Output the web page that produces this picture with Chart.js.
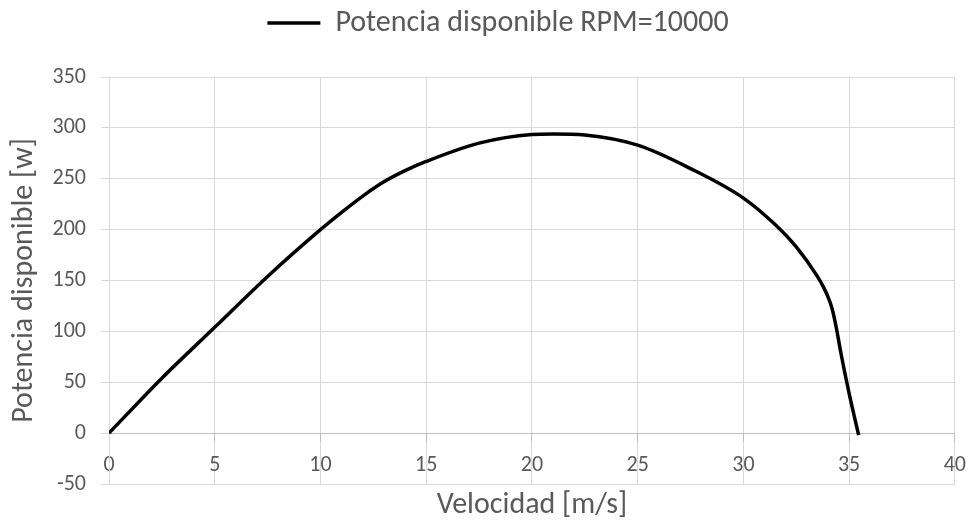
<!DOCTYPE html>
<html>
<head>
<meta charset="utf-8">
<script src="https://cdn.jsdelivr.net/npm/chart.js@4.4.0/dist/chart.umd.min.js"></script>
<style>
  html, body { margin: 0; padding: 0; background: #fff; }
  #chart { display: block; }
</style>
</head>
<body>
<canvas id="chart" width="977" height="523"></canvas>
<script>
// Potencia disponible vs velocidad

const velocidad = [0, 2.5, 5, 7.5, 10, 11, 12, 13, 14, 15, 17.5, 20, 21, 22.5, 25, 27.5, 30, 31.5, 32.5, 33.5, 33.8, 34, 34.2, 34.4, 34.6, 35, 35.45];
const potencia  = [0, 54, 104, 154, 200, 217, 233, 247, 258, 267, 285, 293.5, 294, 293, 283, 260, 231, 205, 183, 154, 143, 134, 122, 103, 80, 39, -2];

const serieLabel = 'Potencia disponible RPM=10000';
const xTitle = 'Velocidad [m/s]';
const yTitle = 'Potencia disponible [w]';
const xTicks = { min: 0, max: 40, step: 5 };
const yTicks = { min: -50, max: 350, step: 50 };

const FONT = 'Carlito, Lato, sans-serif';
const TXT = '#595959';
const GRID = '#d9d9d9';
const AXIS = '#bfbfbf';

const points = velocidad.map((v, i) => ({ x: v, y: potencia[i] }));

// push the plot down below the legend, nudge the legend a bit right
const legendGap = {
  id: 'legendGap',
  beforeInit(chart) {
    const fit = chart.legend.fit;
    chart.legend.fit = function() {
      fit.call(this);
      this.height += 29;
    };
  },
  afterLayout(chart) {
    chart.legend.left += 17;
    chart.legend.right += 17;
  }
};

new Chart(document.getElementById('chart'), {
  type: 'line',
  data: {
    datasets: [{
      label: serieLabel,
      data: points,
      borderColor: '#000',
      backgroundColor: '#000',
      borderWidth: 3.5,
      pointRadius: 0,
      cubicInterpolationMode: 'monotone',
      fill: false
    }]
  },
  options: {
    responsive: false,
    animation: false,
    layout: { padding: { top: 4, right: 15, bottom: 0, left: 0 } },
    plugins: {
      tooltip: { enabled: false },
      legend: {
        position: 'top',
        labels: {
          usePointStyle: true,
          pointStyle: 'line',
          pointStyleWidth: 53,
          color: TXT,
          font: { family: FONT, size: 30 },
          padding: 4
        }
      }
    },
    scales: {
      x: {
        type: 'linear',
        position: { y: 0 },
        min: xTicks.min, max: xTicks.max,
        ticks: { stepSize: xTicks.step, color: TXT, font: { family: FONT, size: 22 }, padding: 11, maxRotation: 0 },
        grid: { color: GRID, tickColor: AXIS, tickLength: 8 },
        border: { color: AXIS, width: 1 }
      },
      xTitle: {
        axis: 'x',
        type: 'linear',
        position: 'bottom',
        grid: { display: false, drawTicks: false },
        border: { display: false },
        ticks: { display: false },
        title: { display: true, text: xTitle, color: TXT, font: { family: FONT, size: 30 }, padding: { top: 0, bottom: 0 } },
        afterFit: s => { s.height = 39; }
      },
      y: {
        min: yTicks.min, max: yTicks.max,
        ticks: { stepSize: yTicks.step, color: TXT, font: { family: FONT, size: 22 }, padding: 15 },
        grid: { color: GRID, tickLength: 8 },
        border: { color: GRID, width: 1 },
        title: { display: true, text: yTitle, color: TXT, font: { family: FONT, size: 30 }, padding: { top: 6, bottom: 0 } },
        afterFit: s => { s.width = 109; }
      }
    }
  },
  plugins: [legendGap]
});
</script>
</body>
</html>
